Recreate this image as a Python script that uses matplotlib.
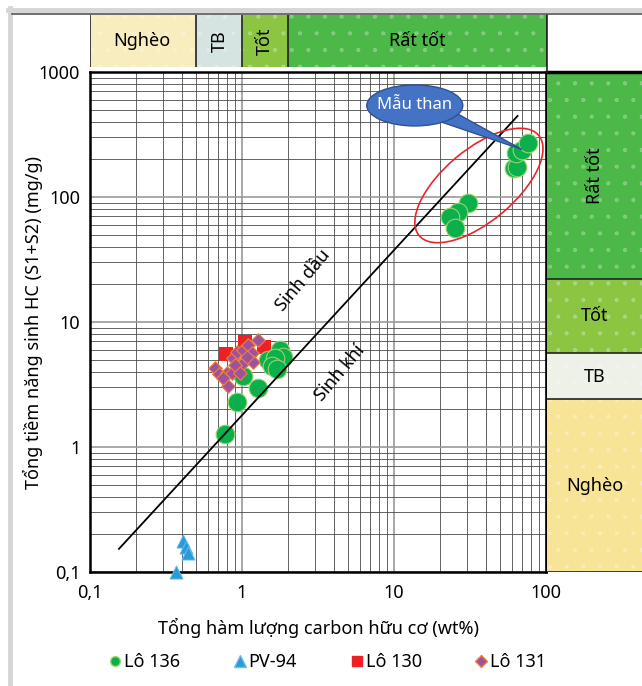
import matplotlib
matplotlib.use('Agg')
import matplotlib.pyplot as plt
import matplotlib.transforms as mtrans
from matplotlib.patches import Ellipse, Polygon
from matplotlib.lines import Line2D

plt.rcParams['font.family'] = ['Noto Sans', 'DejaVu Sans']
plt.rcParams['hatch.linewidth'] = 0.6

# ---- data (TOC wt%, S1+S2 mg/g) ----
lo136_toc = [0.77, 0.93, 1.27, 1.02, 1.48, 1.78, 1.86, 1.65, 1.57, 1.70,
             30.7, 26.4, 23.4, 25.2, 61.5, 64.0, 63.5, 69.5, 76.0]
lo136_hc = [1.27, 2.29, 2.96, 3.70, 4.97, 5.97, 5.25, 5.15, 4.45, 4.21,
            90, 76, 69, 56.5, 170, 175, 225, 238, 270]

pv94_toc = [0.41, 0.43, 0.44, 0.37]
pv94_hc = [0.177, 0.158, 0.142, 0.10]

lo130_toc = [0.78, 1.05, 1.40]
lo130_hc = [5.5, 6.9, 6.3]

lo131_toc = [0.66, 0.71, 0.81, 0.80, 0.87, 0.93, 0.94, 1.02, 1.02, 1.10,
             1.16, 1.27, 1.18, 0.86, 0.90, 0.97, 1.08, 0.75]
lo131_hc = [4.3, 3.85, 3.1, 3.9, 5.15, 5.75, 4.3, 4.7, 6.0, 6.55,
            5.65, 7.2, 4.8, 3.9, 4.5, 3.9, 5.25, 3.55]

# oil / gas divide line
line_toc = [0.155, 65]
line_hc = [0.153, 445]

# classification bands
toc_labels = ['Nghèo', 'TB', 'Tốt', 'Rất tốt']
toc_bounds = [0.1, 0.5, 1, 2, 100]
toc_colors = ['#F8EDBE', '#D5E3E1', '#8CC542', '#4CB848']
hc_labels = ['Nghèo', 'TB', 'Tốt', 'Rất tốt']
hc_bounds = [0.1, 2.4, 5.6, 22, 1000]
hc_colors = ['#F8E497', '#EDF1E8', '#8CC542', '#4CB848']

W, H = 642, 686
BUBBLE = '#4472C4'
BUBBLE_EDGE = '#2F528F'


def fx(px):
    return px / W


def fy(py):
    return 1 - py / H


fig = plt.figure(figsize=(W / 100, H / 100), dpi=100)

# main chart
ax = fig.add_axes([fx(90), fy(572), fx(456), 500 / H])
ax.set_xscale('log')
ax.set_yscale('log')
ax.set_xlim(0.1, 100)
ax.set_ylim(0.1, 1000)
ax.set_xticks([0.1, 1, 10, 100])
ax.set_xticklabels(['0,1', '1', '10', '100'])
ax.set_yticks([0.1, 1, 10, 100, 1000])
ax.set_yticklabels(['0,1', '1', '10', '100', '1000'])
ax.tick_params(which='both', length=0, labelsize=13)
ax.tick_params(axis='x', pad=9)
ax.tick_params(axis='y', pad=7)
ax.grid(which='minor', color='#4a4a4a', lw=0.6)
ax.grid(which='major', color='#9a9a9a', lw=1.2)
ax.set_axisbelow(True)
for s in ax.spines.values():
    s.set_linewidth(1.8)

ax.plot(line_toc, line_hc, color='black', lw=1.3, zorder=4)

ax.scatter(lo130_toc, lo130_hc, marker='s', s=110, c='#EE2024', lw=0, zorder=3)
ax.scatter(lo136_toc, lo136_hc, marker='o', s=180, c='#0BAF4B',
           edgecolors='#9BD46A', lw=0.8, zorder=3)
ax.scatter(lo131_toc, lo131_hc, marker='D', s=48, c='#A0519E',
           edgecolors='#F0803A', lw=0.8, zorder=3)
ax.scatter(pv94_toc, pv94_hc, marker='^', s=90, c='#2C9AD8',
           edgecolors='#6CC0EC', lw=0.6, zorder=3, clip_on=False)

ax.text(2.52, 21.7, 'Sinh dầu', rotation=50, fontsize=13, ha='center', va='center')
ax.text(4.4, 3.9, 'Sinh khí', rotation=50, fontsize=13, ha='center', va='center')

# red ellipse round the coal samples
trans = fig.dpi_scale_trans + mtrans.ScaledTranslation(36.2, 123.6, ax.transData)
ax.add_patch(Ellipse((0, 0), 1.56, 0.72, angle=40, fill=False, ec='#E8262A',
                     lw=1.2, transform=trans, zorder=5))

# callout "Mẫu than"
btrans = fig.dpi_scale_trans + mtrans.ScaledTranslation(13.7, 540, ax.transData)
ax.add_patch(Polygon([(0.22, -0.15), (0.42, -0.08), (1.07, -0.44)], closed=True,
                     fc=BUBBLE, ec=BUBBLE_EDGE, lw=1, transform=btrans, zorder=6))
ax.add_patch(Ellipse((0, 0), 0.96, 0.41, fc=BUBBLE, ec=BUBBLE_EDGE, lw=1,
                     transform=btrans, zorder=6))
ax.text(13.7, 540, 'Mẫu than', color='white', fontsize=12, ha='center',
        va='center', zorder=7)

# top band (TOC classes)
axt = fig.add_axes([fx(90), fy(67), fx(457), 52 / H])
axt.set_xscale('log')
axt.set_xlim(0.1, 100)
axt.set_ylim(0, 1)
axt.axis('off')
for i in range(len(toc_labels)):
    axt.axvspan(toc_bounds[i], toc_bounds[i + 1], color=toc_colors[i], lw=0)
    axt.axvspan(toc_bounds[i], toc_bounds[i + 1], fc='none', ec='#ffffff40',
                hatch='.', lw=0)
    axt.axvline(toc_bounds[i + 1], color='#222222', lw=1.2)
axt.axvline(toc_bounds[0], color='#222222', lw=1.2)
axt.text(0.22, 0.5, 'Nghèo', fontsize=13, ha='center', va='center')
axt.text(0.71, 0.5, 'TB', fontsize=13, ha='center', va='center', rotation=90)
axt.text(1.41, 0.5, 'Tốt', fontsize=13, ha='center', va='center', rotation=90)
axt.text(14.1, 0.5, 'Rất tốt', fontsize=13, ha='center', va='center')

# right band (S1+S2 classes)
axr = fig.add_axes([fx(547), fy(572), fx(95), 500 / H])
axr.set_yscale('log')
axr.set_ylim(0.1, 1000)
axr.set_xlim(0, 1)
axr.axis('off')
for i in range(len(hc_labels)):
    axr.axhspan(hc_bounds[i], hc_bounds[i + 1], color=hc_colors[i], lw=0)
    axr.axhspan(hc_bounds[i], hc_bounds[i + 1], fc='none', ec='#ffffff40',
                hatch='.', lw=0)
    axr.axhline(hc_bounds[i], color='#222222', lw=1.2)
axr.axhline(1000, color='black', lw=2.5, clip_on=False)
axr.text(0.5, 0.49, 'Nghèo', fontsize=13, ha='center', va='center')
axr.text(0.5, 3.65, 'TB', fontsize=13, ha='center', va='center')
axr.text(0.5, 11.2, 'Tốt', fontsize=13, ha='center', va='center')
axr.text(0.5, 148, 'Rất tốt', fontsize=13, ha='center', va='center', rotation=90)

# corner cell border
fig.add_artist(Line2D([fx(547), fx(547)], [fy(15), fy(72)], color='#222222', lw=1.2))

# frame lines
fig.add_artist(Line2D([fx(10), fx(10)], [0, fy(8)], color='#D6D6D6', lw=3.5))
fig.add_artist(Line2D([fx(8), 1], [fy(10), fy(10)], color='#D6D6D6', lw=3.5))
fig.add_artist(Line2D([fx(12), 1], [fy(14), fy(14)], color='#555555', lw=1.2))

fig.text(fx(318), fy(628), 'Tổng hàm lượng carbon hữu cơ (wt%)', fontsize=13,
         ha='center', va='center')
fig.text(fx(33), fy(322), 'Tổng tiềm năng sinh HC (S1+S2) (mg/g)', fontsize=13,
         ha='center', va='center', rotation=90)

handles = [
    Line2D([], [], ls='', marker='o', ms=7, mfc='#0BAF4B', mec='#9BD46A', label='Lô 136'),
    Line2D([], [], ls='', marker='^', ms=8, mfc='#2C9AD8', mec='#6CC0EC', label='PV-94'),
    Line2D([], [], ls='', marker='s', ms=7, mfc='#EE2024', mec='#EE2024', label='Lô 130'),
    Line2D([], [], ls='', marker='D', ms=6, mfc='#A0519E', mec='#F0803A', label='Lô 131'),
]
fig.legend(handles=handles, loc='center', bbox_to_anchor=(fx(328), fy(662)),
           ncol=4, frameon=False, fontsize=13, handlelength=0.6,
           handletextpad=0.2, columnspacing=3.0)

fig.savefig('out.png', dpi=100)
